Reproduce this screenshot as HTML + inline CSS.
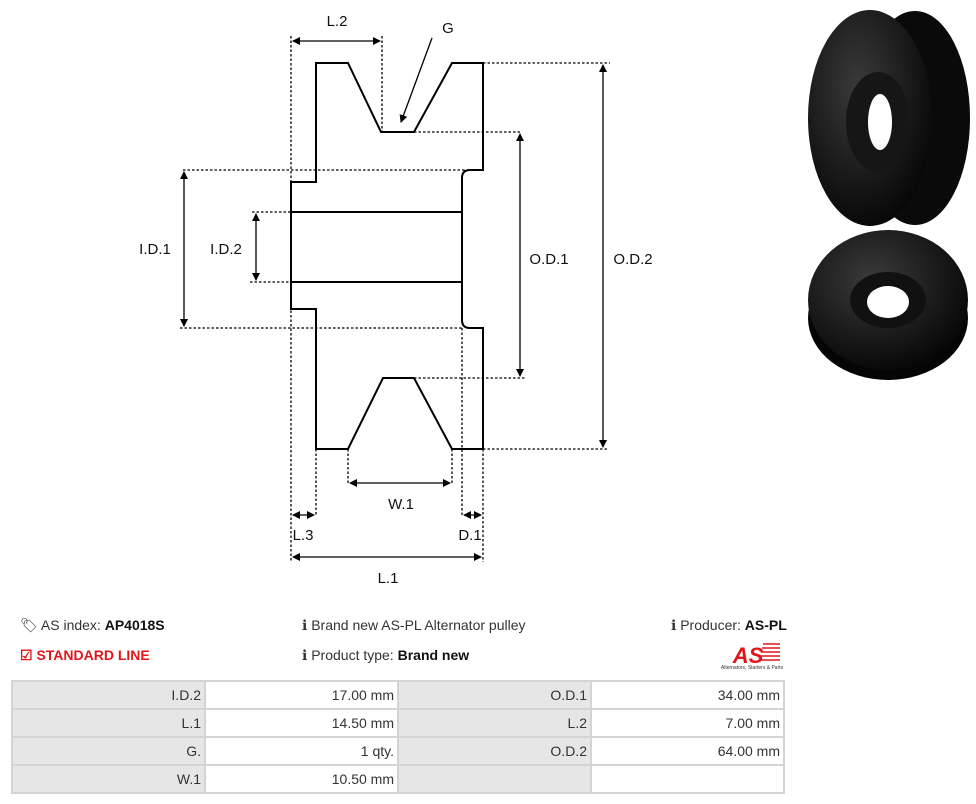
<!DOCTYPE html>
<html><head><meta charset="utf-8"><style>
html,body{margin:0;padding:0;background:#fff;width:976px;height:804px;overflow:hidden;font-family:"Liberation Sans Narrow","Liberation Sans",sans-serif;}
.t{position:absolute;font-size:14px;color:#333;white-space:nowrap;}
b{color:#111}
table{position:absolute;left:11px;top:680px;border-collapse:collapse;font-size:14px;color:#333;}
td{border:2px solid #d4d4d4;height:26px;width:188px;text-align:right;padding:0 3px 0 0;}
td.g{background:#e6e6e6}
</style></head><body>
<svg width="976" height="804" style="position:absolute;left:0;top:0" xmlns="http://www.w3.org/2000/svg">
<defs>
<marker id="a" markerWidth="8" markerHeight="8" refX="7" refY="4" orient="auto-start-reverse" markerUnits="userSpaceOnUse"><path d="M0,0 L8,4 L0,8 z" fill="#000"/></marker>
<radialGradient id="p1" cx="0.4" cy="0.35" r="0.7"><stop offset="0" stop-color="#3a3a3a"/><stop offset="1" stop-color="#050505"/></radialGradient>
</defs>
<g fill="none" stroke="#000" stroke-width="1.3" stroke-dasharray="2.5,2">
<path d="M291,36V562 M382,36V132 M414,132H522 M414,378H525 M483,63H610 M483,449H607 M183,170H483 M180,328H462 M252,212H291 M250,282H291 M348,449V485 M452,449V485 M316,449V515 M462,328V515 M483,449V562"/>
</g>
<g fill="none" stroke="#000" stroke-width="2">
<path d="M316,182V63H348L381,132H414L452,63H483V170H470Q462,170 462,178V320Q462,328 470,328H483V449H452L414,378H383L348,449H316V309H291V182Z"/>
<path d="M291,212H462 M291,282H462"/>
</g>
<g stroke="#000" stroke-width="1.3" marker-start="url(#a)" marker-end="url(#a)">
<line x1="293" y1="41" x2="380" y2="41"/>
<line x1="184" y1="172" x2="184" y2="326"/>
<line x1="256" y1="214" x2="256" y2="280"/>
<line x1="520" y1="134" x2="520" y2="376"/>
<line x1="603" y1="65" x2="603" y2="447"/>
<line x1="350" y1="483" x2="450" y2="483"/>
<line x1="293" y1="515" x2="314" y2="515"/>
<line x1="464" y1="515" x2="481" y2="515"/>
<line x1="293" y1="557" x2="481" y2="557"/>
</g>
<line x1="432" y1="38" x2="401" y2="122" stroke="#000" stroke-width="1.3" marker-end="url(#a)"/>
<g font-family="Liberation Sans, sans-serif" font-size="15" fill="#111" text-anchor="middle">
<text x="337" y="26">L.2</text><text x="448" y="33">G</text>
<text x="155" y="254">I.D.1</text><text x="226" y="254">I.D.2</text>
<text x="549" y="264">O.D.1</text><text x="633" y="264">O.D.2</text>
<text x="401" y="509">W.1</text><text x="303" y="540">L.3</text><text x="470" y="540">D.1</text>
<text x="388" y="583">L.1</text>
</g>
<ellipse cx="915" cy="118" rx="55" ry="107" fill="#0a0a0a"/>
<ellipse cx="870" cy="118" rx="62" ry="108" fill="url(#p1)"/>
<ellipse cx="878" cy="122" rx="32" ry="50" fill="#161616"/>
<ellipse cx="880" cy="122" rx="12" ry="28" fill="#fff"/>
<ellipse cx="888" cy="318" rx="80" ry="62" fill="#050505"/>
<ellipse cx="888" cy="300" rx="80" ry="70" fill="url(#p1)"/>
<ellipse cx="888" cy="300" rx="38" ry="28" fill="#111"/>
<ellipse cx="888" cy="302" rx="21" ry="16" fill="#fff"/>
<text x="748" y="663" font-family="Liberation Sans, sans-serif" font-weight="bold" font-style="italic" font-size="22" fill="#e3161b" text-anchor="middle">AS</text>
<g stroke="#e3161b" stroke-width="1.5"><path d="M763,644H780 M762,648H780 M761,652H780 M760,656H780 M759,660H780"/></g>
<text x="752" y="669" font-family="Liberation Sans, sans-serif" font-size="5" fill="#333" text-anchor="middle">Alternators, Starters &amp; Parts</text>
</svg>
<div class="t" style="left:20px;top:617px">&#x1F3F7;&#xFE0E; AS index: <b>AP4018S</b></div>
<div class="t" style="left:20px;top:647px;color:#e3161b;font-weight:bold">&#x2611; STANDARD LINE</div>
<div class="t" style="left:302px;top:617px">&#x2139; Brand new AS-PL Alternator pulley</div>
<div class="t" style="left:302px;top:647px">&#x2139; Product type: <b>Brand new</b></div>
<div class="t" style="left:671px;top:617px">&#x2139; Producer: <b>AS-PL</b></div>
<table>
<tr><td class="g">I.D.2</td><td>17.00 mm</td><td class="g">O.D.1</td><td>34.00 mm</td></tr>
<tr><td class="g">L.1</td><td>14.50 mm</td><td class="g">L.2</td><td>7.00 mm</td></tr>
<tr><td class="g">G.</td><td>1 qty.</td><td class="g">O.D.2</td><td>64.00 mm</td></tr>
<tr><td class="g">W.1</td><td>10.50 mm</td><td class="g"></td><td></td></tr>
</table>
</body></html>
